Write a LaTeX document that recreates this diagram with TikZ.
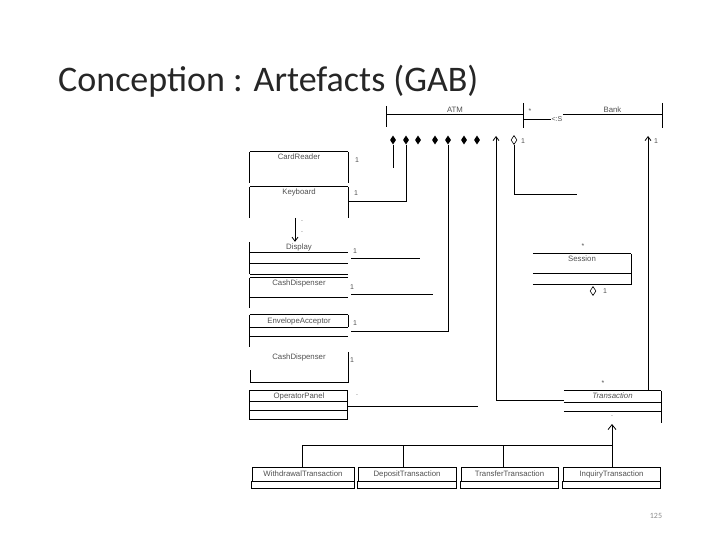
\documentclass[tikz,border=0pt]{standalone}
\usepackage{fontspec}
\setmainfont{Carlito}
\newfontfamily\umlfont{Liberation Sans}
\usetikzlibrary{arrows.meta, positioning, calc, shapes.geometric}
\definecolor{titlegray}{HTML}{262626}
\definecolor{umltext}{HTML}{505050}
\definecolor{pagegray}{HTML}{8C8C8C}

\begin{document}
\begin{tikzpicture}[x=1pt, y=-1pt,
      cls/.style={minimum width=98pt, minimum height=10pt, inner sep=0pt,
        text height=5.6pt, text depth=1.4pt,
        font=\umlfont\fontsize{7.8}{9}\selectfont, text=umltext},
      subcls/.style={cls, draw, line width=0.8pt, minimum height=14pt},
      mult/.style={font=\umlfont\fontsize{7}{8}\selectfont, text=umltext,
        inner sep=1pt},
      comp/.style={diamond, fill=black, minimum width=6pt,
        minimum height=9pt, inner sep=0pt},
      aggr/.style={diamond, draw=black, fill=white, line width=0.6pt,
        minimum width=6pt, minimum height=9pt, inner sep=0pt},
      uml/.style={line width=0.8pt},
      >={Straight Barb[length=4pt, width=6pt]}
    ]
      \useasboundingbox (0,0) rectangle (720,540);

      \node[anchor=base west, inner sep=0pt, text=titlegray,
        font=\fontsize{36}{42}\selectfont] (title) at (58,92)
        {Conception : Artefacts (GAB)};
      \node[font=\fontsize{8}{9}\selectfont, text=pagegray] (pagenum)
        at (656,516) {125};

      % ATM and Bank
      \node[cls, minimum width=136pt, minimum height=8pt] (atm)
        at (455,110) {ATM};
      \draw[uml] (atm.south west) -- (atm.south east);
      \draw[uml] (atm.north west) -- ++(0,21);
      \draw[uml] (atm.north east) ++(0,-3) -- ++(0,25);
      \node[cls, minimum width=99pt, minimum height=8pt] (bank)
        at (612.5,110) {Bank};
      \draw[uml] (bank.south west) -- (bank.south east);
      \draw[uml] (bank.north east) ++(0,-3) -- ++(0,25);
      \draw[uml] ($(atm.south east)+(0,5)$) --
        node[mult, fill=white, pos=0.85] (useslabel) {<:S}
        ($(bank.south west)+(0,5)$);
      \node[mult] (atmstar) at (530,111) {*};

      % diamonds under ATM
      \node[comp] (dcard) at (393,140) {};
      \node[comp] (dkey) at (406,140) {};
      \node[comp] (ddisp) at (418,140) {};
      \node[comp] (dcash) at (435,140) {};
      \node[comp] (denv) at (448,140) {};
      \node[comp] (drcpt) at (464,140) {};
      \node[comp] (doper) at (477,140) {};
      \node[aggr] (dsess) at (514,140) {};
      \node[mult] (sessone) at (523,141) {1};
      \node[mult] (bankone) at (656,141) {1};

      % devices
      \node[cls] (cardreader) at (299,157) {CardReader};
      \draw[uml] (cardreader.north west) -- (cardreader.north east);
      \draw[uml] (cardreader.north west) -- ++(0,31);
      \draw[uml] (cardreader.north east) -- ++(0,31);
      \node[mult] (cardone) at (357,160) {1};

      \node[cls] (keyboard) at (299,192) {Keyboard};
      \draw[uml] (keyboard.north west) -- (keyboard.north east);
      \draw[uml] (keyboard.north west) -- ++(0,31);
      \draw[uml] (keyboard.north east) -- ++(0,31);
      \node[mult] (keyone) at (356,193) {1};

      \node[cls] (display) at (299,247) {Display};
      \draw[uml] (display.south west) -- (display.south east);
      \draw[uml] ($(display.south west)+(0,11)$) -- ++(98,0);
      \draw[uml] ($(display.south west)+(0,22)$) -- ++(98,0);
      \draw[uml] (display.north west) -- ++(0,32);
      \node[mult] (dispone) at (355,251) {1};

      \node[cls] (cashdisp) at (299,283) {CashDispenser};
      \draw[uml] (cashdisp.north west) -- (cashdisp.north east);
      \draw[uml] ($(cashdisp.north west)+(0,20)$) -- ++(98,0);
      \draw[uml] (cashdisp.north west) -- ++(0,30);
      \node[mult] (cashone) at (352,287) {1};

      \node[cls, minimum height=12pt] (envelope) at (299,321)
        {EnvelopeAcceptor};
      \draw[uml] (envelope.north west) -- (envelope.north east);
      \draw[uml] (envelope.south west) -- (envelope.south east);
      \draw[uml] ($(envelope.south west)+(0,9)$) -- ++(98,0);
      \draw[uml] (envelope.north west) -- ++(0,32);
      \draw[uml] (envelope.north east) -- (envelope.south east);
      \node[mult] (envone) at (355,323) {1};

      \node[cls] (receipt) at (299,357) {CashDispenser};
      \draw[uml] (receipt.north east) -- ++(0,31) -- ++(-98,0) -- ++(0,-13);
      \node[mult] (rcptone) at (352,360) {1};

      \node[cls] (operator) at (299,396) {OperatorPanel};
      \draw[uml] (operator.north west) rectangle ++(98,29);
      \draw[uml] (operator.south west) -- (operator.south east);
      \draw[uml] ($(operator.south west)+(0,9)$) -- ++(98,0);
      \node[mult] (operone) at (357,395) {.};

      % keyboard to display
      \coordinate (kbbottom) at (295,218);
      \draw[uml, ->] (kbbottom) -- (display.north -| kbbottom);
      \node[mult] (kbdotA) at (302,221) {.};
      \node[mult] (kbdotB) at (302,232) {.};

      % composition links
      \coordinate (cardstub) at (393,168);
      \draw[uml] (dcard.south) -- (cardstub);
      \draw[uml] (dkey.south) |- ($(keyboard.east)+(0,9)$);
      \coordinate (dispend) at (420,258);
      \draw[uml] ($(dispend -| display.east)+(3,0)$) -- (dispend);
      \coordinate (cashend) at (433,294);
      \draw[uml] ($(cashend -| cashdisp.east)+(3,0)$) -- (cashend);
      \draw[uml] (denv.south) |- ($(envelope.east)+(3,10)$);
      \coordinate (operend) at (478,406);
      \draw[uml] (operend -| operator.east) -- (operend);

      % session and transaction
      \node[cls] (session) at (582,259) {Session};
      \draw[uml] (session.north west) -- (session.north east);
      \draw[uml] ($(session.north west)+(0,20)$) -- ++(98,0);
      \draw[uml] ($(session.north west)+(0,31)$) -- ++(98,0);
      \draw[uml] (session.north east) -- ++(0,31);
      \node[mult] (sessstar) at (583,246) {*};
      \node[aggr] (tsess) at (593,291) {};
      \node[mult] (tsessone) at (605,291) {1};
      \coordinate (sessend) at (577,194);
      \draw[uml] (dsess.south) |- (sessend);

      \node[cls, minimum width=97pt, minimum height=11pt,
        font=\umlfont\itshape\fontsize{7.8}{9}\selectfont] (transaction)
        at (612.5,396.5) {Transaction};
      \draw[uml] (transaction.north west) -- (transaction.north east);
      \draw[uml] (transaction.south west) -- (transaction.south east);
      \draw[uml] ($(transaction.south west)+(0,9)$) -- ++(97,0);
      \draw[uml] (transaction.north east) -- ++(0,32);
      \node[mult] (transstar) at (603,383) {*};

      \coordinate (atmnav) at (496,136);
      \draw[uml, ->] ($(transaction.west)+(0,3.5)$) -| (atmnav);
      \coordinate (banknav) at (648,136);
      \draw[uml, ->] (banknav |- transaction.north) -- (banknav);

      % subclasses
      \node[subcls, minimum width=102pt] (withdrawal) at (303,474)
        {WithdrawalTransaction};
      \node[subcls] (deposit) at (407,474) {DepositTransaction};
      \node[subcls, minimum width=97pt] (transfer) at (509.5,474)
        {TransferTransaction};
      \node[subcls, minimum width=97pt] (inquiry) at (611.5,474)
        {InquiryTransaction};
      \draw[uml] (withdrawal.south west) rectangle
        ($(withdrawal.south east)+(0,7)$);
      \draw[uml] (deposit.south west) rectangle ($(deposit.south east)+(0,7)$);
      \draw[uml] (transfer.south west) rectangle ($(transfer.south east)+(0,7)$);
      \draw[uml] (inquiry.south west) rectangle ($(inquiry.south east)+(0,7)$);

      \coordinate (gentip) at (612,424);
      \coordinate (genjoin) at (612,445);
      \node[mult] (gendot) at (612,416) {.};
      \draw[uml, {Straight Barb[length=5pt, width=8pt]}-] (gentip) -- (genjoin);
      \draw[uml] (genjoin) -| ($(withdrawal.north)+(-1,0)$);
      \draw[uml] (genjoin) -| ($(deposit.north)+(-4,0)$);
      \draw[uml] (genjoin) -| ($(transfer.north)+(-6,0)$);
      \draw[uml] (genjoin) -- (genjoin |- inquiry.north);
    \end{tikzpicture}
\end{document}
